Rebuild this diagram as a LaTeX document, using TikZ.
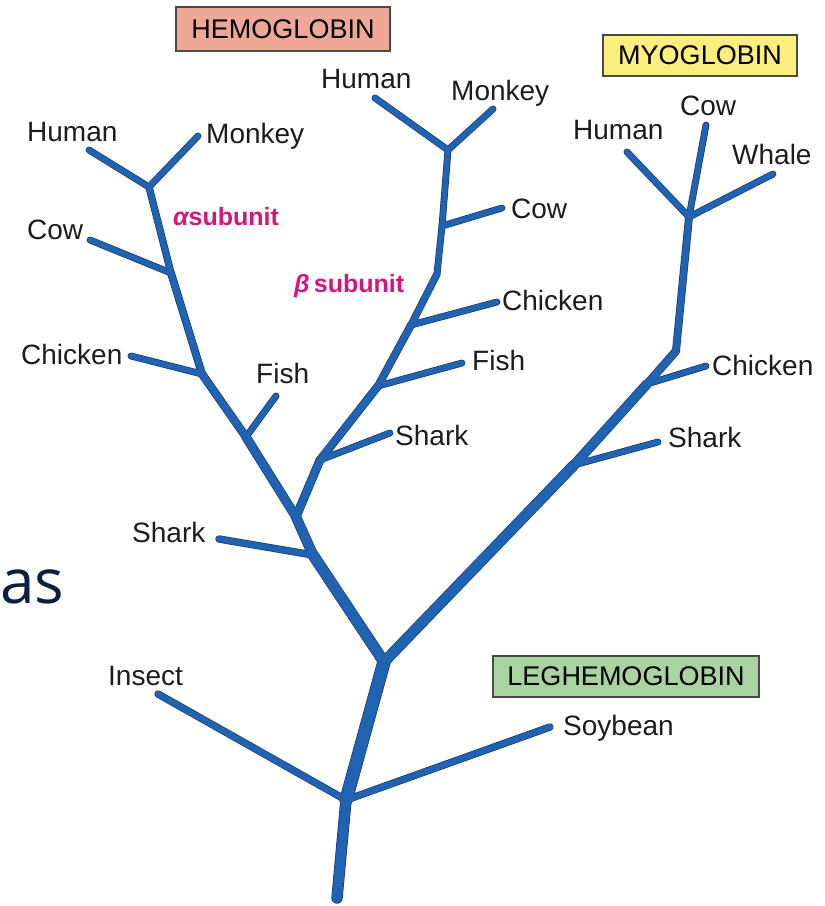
\documentclass[tikz,border=0pt]{standalone}
\usepackage{fontspec}
\setmainfont{Liberation Sans}
\newfontfamily\slidefont{Open Sans}
\definecolor{branch}{HTML}{1F63B2}
\definecolor{branchedge}{HTML}{1A3A68}
\definecolor{labelgray}{HTML}{1C1C1C}
\definecolor{subpink}{HTML}{D4157F}
\definecolor{tagedge}{HTML}{4A4A4A}
\definecolor{hemofill}{HTML}{F0A896}
\definecolor{myofill}{HTML}{FAEE7E}
\definecolor{legfill}{HTML}{A8D4A0}
\definecolor{slidenavy}{HTML}{0B1F3F}
\begin{document}
\begin{tikzpicture}[x=1pt,y=-1pt,
  lbl/.style={font=\fontsize{28}{32}\selectfont, text=labelgray, anchor=base west, inner sep=0pt},
  sublbl/.style={font=\bfseries\fontsize{25}{29}\selectfont, text=subpink, anchor=base west, inner sep=0pt},
  famtag/.style={draw=tagedge, line width=1.2pt, font=\fontsize{27}{31}\selectfont, text=black, inner sep=0pt, minimum height=42pt},
]
\useasboundingbox (0,0) rectangle (825,906);

% ---- branch points and tips ----
\coordinate (r0) at (337,898);
\coordinate (n1) at (346,800);
\coordinate (tInsect) at (158,694);
\coordinate (tSoy) at (550,727);
\coordinate (n2) at (384,662);
% hemoglobin stem
\coordinate (hs) at (313,555);
\coordinate (tSharkH) at (219,539);
\coordinate (hb) at (296,517);
% alpha subunit
\coordinate (af) at (246,437);
\coordinate (tFishA) at (276,396);
\coordinate (ac) at (202,374);
\coordinate (tChickA) at (131,356);
\coordinate (aw) at (171,273);
\coordinate (tCowA) at (90,240);
\coordinate (ah) at (149,187);
\coordinate (tHumA) at (89,150);
\coordinate (tMonA) at (198,136);
% beta subunit
\coordinate (bk) at (320,460);
\coordinate (tSharkB) at (390,433);
\coordinate (bf) at (378,386);
\coordinate (tFishB) at (462,363);
\coordinate (bc) at (411,325);
\coordinate (tChickB) at (497,302);
\coordinate (bb) at (437,274);
\coordinate (bw) at (442,226);
\coordinate (tCowB) at (502,208);
\coordinate (bh) at (448,150);
\coordinate (tHumB) at (375,98);
\coordinate (tMonB) at (493,109);
% myoglobin
\coordinate (ms) at (574,465);
\coordinate (tSharkM) at (658,442);
\coordinate (mc) at (647,384);
\coordinate (tChickM) at (706,366);
\coordinate (mb) at (676,351);
\coordinate (mh) at (689,217);
\coordinate (tHumM) at (627,152);
\coordinate (tCowM) at (706,125);
\coordinate (tWhale) at (773,174);

% ---- branches: dark rim first, then the blue body ----
\def\segments{r0/n1/10, n1/n2/12, n1/tInsect/6, n1/tSoy/6,
  n2/hs/10, hs/hb/9, hs/tSharkH/6,
  hb/af/8, af/tFishA/5.5, af/ac/7, ac/tChickA/5.5, ac/aw/6.5, aw/tCowA/5.5, aw/ah/6, ah/tHumA/5.5, ah/tMonA/5.5,
  hb/bk/7.5, bk/tSharkB/5.5, bk/bf/7, bf/tFishB/5.5, bf/bc/6.5, bc/tChickB/5.5, bc/bb/6, bb/bw/5.5, bw/tCowB/5.5, bw/bh/5.5, bh/tHumB/5.5, bh/tMonB/5.5,
  n2/ms/9.5, ms/tSharkM/5.5, ms/mc/8.5, mc/tChickM/5.5, mc/mb/7, mb/mh/6.5, mh/tHumM/5.5, mh/tCowM/5.5, mh/tWhale/5.5}
\foreach \a/\b/\w in \segments {
  \draw[branchedge, line cap=round, line width=\w+1.4] (\a) -- (\b);
}
\foreach \a/\b/\w in \segments {
  \draw[branch, line cap=round, line width=\w] (\a) -- (\b);
}

% ---- family tags ----
\node[famtag, fill=hemofill, minimum width=214pt, minimum height=44pt] (hemo) at (283,29) {HEMOGLOBIN};
\node[famtag, fill=myofill, minimum width=194pt, minimum height=41pt] (myo) at (700,55.5) {MYOGLOBIN};
\node[famtag, fill=legfill, minimum width=266pt, minimum height=41pt] (leg) at (626,676.5) {LEGHEMOGLOBIN};

% ---- subunit labels ----
\node[sublbl] (alphaLbl) at (173,225) {{\itshape α}subunit};
\node[sublbl] (betaLbl) at (294,292) {{\itshape β}\,subunit};

% ---- species labels ----
\node[lbl] (lHumA) at (27,141) {Human};
\node[lbl] (lMonA) at (206,143) {Monkey};
\node[lbl] (lCowA) at (27,239) {Cow};
\node[lbl] (lChickA) at (21,364) {Chicken};
\node[lbl] (lFishA) at (256,383) {Fish};
\node[lbl] (lSharkH) at (132,542) {Shark};
\node[lbl] (lInsect) at (108,685) {Insect};
\node[lbl] (lSoy) at (563,735) {Soybean};
\node[lbl] (lHumB) at (321,88) {Human};
\node[lbl] (lMonB) at (451,100) {Monkey};
\node[lbl] (lCowB) at (511,218) {Cow};
\node[lbl] (lChickB) at (502,310) {Chicken};
\node[lbl] (lFishB) at (472,370) {Fish};
\node[lbl] (lSharkB) at (395,445) {Shark};
\node[lbl] (lHumM) at (573,139) {Human};
\node[lbl] (lCowM) at (680,115) {Cow};
\node[lbl] (lWhale) at (732,164) {Whale};
\node[lbl] (lChickM) at (712,375) {Chicken};
\node[lbl] (lSharkM) at (668,447) {Shark};

% ---- slide text at the left edge ----
\node[anchor=base west, inner sep=0pt, text=slidenavy, font=\slidefont\fontsize{62}{70}\selectfont] (slideWord) at (0,603) {as};
\end{tikzpicture}
\end{document}
